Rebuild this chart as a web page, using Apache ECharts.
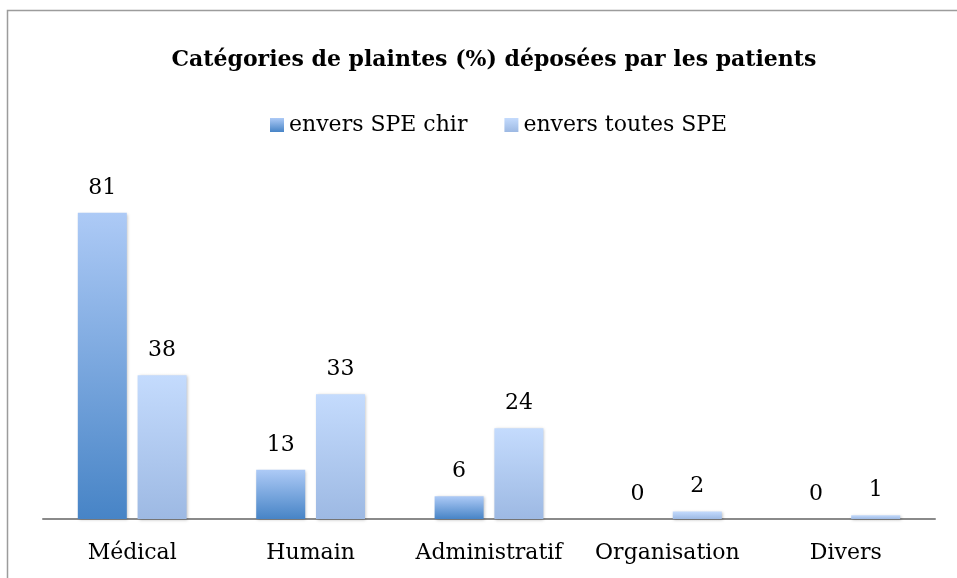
<!DOCTYPE html>
<html>
<head>
<meta charset="utf-8">
<script src="https://cdn.jsdelivr.net/npm/echarts@6/dist/echarts.min.js"></script>
<style>
html,body{margin:0;padding:0;background:#fff;}
#chart{width:957px;height:578px;}
</style>
</head>
<body>
<div id="chart"></div>
<script>
var categories = ['Médical', 'Humain', 'Administratif', 'Organisation', 'Divers'];
var seriesNames = ['envers SPE chir', 'envers toutes SPE'];
var chirValues = [81, 13, 6, 0, 0];
var toutesValues = [38, 33, 24, 2, 1];
var titleText = 'Catégories de plaintes (%) déposées par les patients';

var FONT = 'DejaVu Serif';

function grad(top, bottom) {
  return new echarts.graphic.LinearGradient(0, 0, 0, 1, [
    {offset: 0, color: top},
    {offset: 1, color: bottom}
  ]);
}

var chart = echarts.init(document.getElementById('chart'));

var labelCfg = {
  show: true,
  position: 'top',
  distance: 14,
  fontFamily: FONT,
  fontSize: 22,
  color: '#000'
};

var option = {
  backgroundColor: '#fff',
  animation: false,
  title: {
    text: titleText,
    left: 489,
    textAlign: 'center',
    top: 44,
    textStyle: {
      fontFamily: FONT,
      fontWeight: 'bold',
      fontSize: 22,
      color: '#000'
    }
  },
  legend: {
    left: 265,
    top: 109,
    itemWidth: 14,
    itemHeight: 14,
    itemGap: 37,
    icon: 'rect',
    textStyle: {
      fontFamily: FONT,
      fontSize: 22,
      color: '#000'
    },
    data: seriesNames
  },
  grid: {
    left: 43,
    right: 957 - 935,
    top: 141,
    bottom: 578 - 519,
    containLabel: false
  },
  xAxis: {
    type: 'category',
    data: categories,
    axisLine: {show: true, lineStyle: {color: '#8a8a8a', width: 2}},
    axisTick: {show: false},
    axisLabel: {
      fontFamily: FONT,
      fontSize: 22,
      color: '#000',
      margin: 23,
      interval: 0
    }
  },
  yAxis: {
    type: 'value',
    min: 0,
    max: 100,
    show: false,
    splitLine: {show: false}
  },
  series: [
    {
      name: seriesNames[0],
      type: 'bar',
      data: chirValues,
      barWidth: 49,
      barGap: '22%',
      itemStyle: {
        color: grad('#adcaf6', '#4784c6'),
        shadowBlur: 3,
        shadowColor: 'rgba(0,0,0,0.25)',
        shadowOffsetX: 1,
        shadowOffsetY: 1
      },
      label: labelCfg
    },
    {
      name: seriesNames[1],
      type: 'bar',
      data: toutesValues,
      barWidth: 49,
      barGap: '22%',
      itemStyle: {
        color: grad('#c4dbfd', '#9db9e3'),
        shadowBlur: 3,
        shadowColor: 'rgba(0,0,0,0.25)',
        shadowOffsetX: 1,
        shadowOffsetY: 1
      },
      label: labelCfg
    }
  ],
  graphic: [
    {
      type: 'rect',
      silent: true,
      z: -1,
      shape: {x: 7.5, y: 10.5, width: 1200, height: 1000},
      style: {fill: 'none', stroke: '#9c9c9c', lineWidth: 1.5}
    }
  ]
};

chart.setOption(option);
</script>
</body>
</html>
